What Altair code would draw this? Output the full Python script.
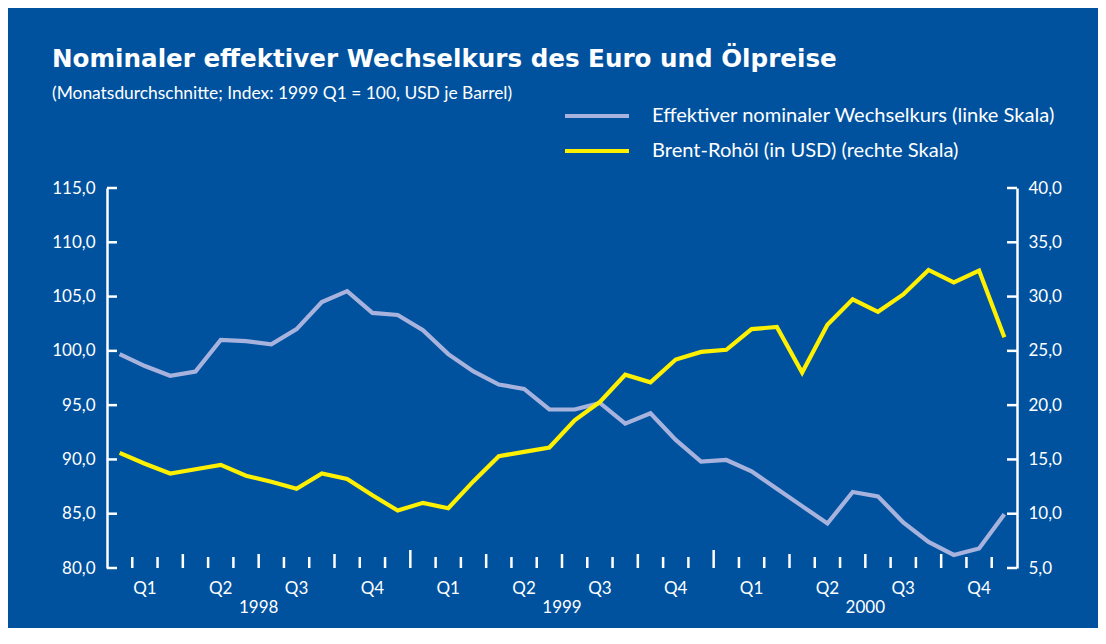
import altair as alt
import pandas as pd

# ---------------- data ----------------
months = list(range(36))  # Jan 1998 ... Dec 2000
ewk = [99.7, 98.6, 97.7, 98.1, 101.0, 100.9, 100.6, 102.0, 104.5, 105.5, 103.5, 103.3,
       101.9, 99.7, 98.1, 96.9, 96.5, 94.6, 94.6, 95.2, 93.3, 94.25, 91.8, 89.8,
       89.95, 88.9, 87.3, 85.7, 84.1, 87.0, 86.6, 84.2, 82.4, 81.2, 81.8, 84.95]
brent = [15.6, 14.6, 13.7, 14.1, 14.5, 13.5, 12.95, 12.3, 13.7, 13.2, 11.7, 10.3,
         11.0, 10.5, 13.0, 15.3, 15.7, 16.1, 18.6, 20.3, 22.8, 22.1, 24.2, 24.9,
         25.1, 27.0, 27.2, 23.0, 27.4, 29.75, 28.6, 30.2, 32.45, 31.3, 32.4, 26.25]
left_ticks = [80, 85, 90, 95, 100, 105, 110, 115]
right_ticks = [5, 10, 15, 20, 25, 30, 35, 40]
quarter_labels = ["Q1", "Q2", "Q3", "Q4"] * 3
quarter_pos = [1, 4, 7, 10, 13, 16, 19, 22, 25, 28, 31, 34]
year_labels = ["1998", "1999", "2000"]
year_pos = [5.5, 17.5, 29.5]

TITLE = "Nominaler effektiver Wechselkurs des Euro und Ölpreise"
SUBTITLE = "(Monatsdurchschnitte; Index: 1999 Q1 = 100, USD je Barrel)"
SERIES = ["Effektiver nominaler Wechselkurs (linke Skala)",
          "Brent-Rohöl (in USD) (rechte Skala)"]

BLUE = "#00529F"
LAV = "#A8B3DD"
YEL = "#FFF000"
FONT = "Lato"
TITLE_FONT = "DejaVu Sans"

df = pd.DataFrame({"m": months, "ewk": ewk, "brent": brent})

# month boundaries between consecutive months
bounds = [k + 0.5 for k in range(35)]
year_b = [b for b in bounds if int(b + 0.5) % 12 == 0]
quarter_b = [b for b in bounds if int(b + 0.5) % 3 == 0 and b not in year_b]
month_b = [b for b in bounds if b not in year_b and b not in quarter_b]

xscale = alt.Scale(domain=[-0.5, 35.5], nice=False, zero=False)
lscale = alt.Scale(domain=[80, 115], nice=False, zero=False)
rscale = alt.Scale(domain=[5, 40], nice=False, zero=False)
LABEL_EXPR = "replace(format(datum.value, '.1f'), '.', ',')"


def yaxis(orient, values, pad):
    return alt.Axis(orient=orient, values=values, labelExpr=LABEL_EXPR, title=None,
                    domain=True, domainColor="white", domainWidth=2.5,
                    ticks=False, tickSize=0, labelPadding=pad, grid=False,
                    labelColor="white", labelFont=FONT, labelFontSize=17)


line_l = alt.Chart(df).mark_line(color=LAV, strokeWidth=4.2).encode(
    x=alt.X("m:Q", scale=xscale, axis=None),
    y=alt.Y("ewk:Q", scale=lscale, axis=yaxis("left", left_ticks, 12)),
)
line_r = alt.Chart(df).mark_line(color=YEL, strokeWidth=4.2).encode(
    x=alt.X("m:Q", scale=xscale, axis=None),
    y=alt.Y("brent:Q", scale=rscale, axis=yaxis("right", right_ticks, 11)),
)

ticks_l = alt.Chart(pd.DataFrame({"v": left_ticks})).mark_rule(
    color="white", strokeWidth=2.5).encode(
    y=alt.Y("v:Q", scale=lscale, axis=None), x=alt.value(0), x2=alt.value(10))
ticks_r = alt.Chart(pd.DataFrame({"v": right_ticks})).mark_rule(
    color="white", strokeWidth=2.5).encode(
    y=alt.Y("v:Q", scale=rscale, axis=None), x=alt.value(910), x2=alt.value(900))


def xticks(vals, length):
    return alt.Chart(pd.DataFrame({"b": vals})).mark_rule(
        color="white", strokeWidth=2.5).encode(
        x=alt.X("b:Q", scale=xscale, axis=None),
        y=alt.value(380), y2=alt.value(380 - length))


xt_m = xticks(month_b, 11)
xt_q = xticks(quarter_b, 14)
xt_y = xticks(year_b, 18)

qlab = alt.Chart(pd.DataFrame({"p": quarter_pos, "t": quarter_labels})).mark_text(
    color="white", font=FONT, fontSize=17, baseline="middle", align="center").encode(
    x=alt.X("p:Q", scale=xscale, axis=None), y=alt.value(401), text="t:N")
ylab = alt.Chart(pd.DataFrame({"p": year_pos, "t": year_labels})).mark_text(
    color="white", font=FONT, fontSize=17, baseline="middle", align="center").encode(
    x=alt.X("p:Q", scale=xscale, axis=None), y=alt.value(420), text="t:N")


def text(t, x, y, size, weight="normal", font=FONT):
    return alt.Chart(pd.DataFrame({"t": [t]})).mark_text(
        color="white", font=font, fontSize=size, fontWeight=weight,
        align="left", baseline="alphabetic").encode(
        x=alt.value(x), y=alt.value(y), text="t:N")


title = text(TITLE, -55, -121, 24.6, "bold", TITLE_FONT)
subtitle = text(SUBTITLE, -55, -89, 17.4)
leg_t1 = text(SERIES[0], 545, -66, 20.1)
leg_t2 = text(SERIES[1], 545, -31, 20.1)


def legline(color, y):
    return alt.Chart(pd.DataFrame({"t": [0]})).mark_rule(
        color=color, strokeWidth=4).encode(
        x=alt.value(458), x2=alt.value(522), y=alt.value(y))


leg_l1 = legline(LAV, -72)
leg_l2 = legline(YEL, -37)

chart = alt.layer(
    line_l, line_r, ticks_l, ticks_r, xt_m, xt_q, xt_y, qlab, ylab,
    title, subtitle, leg_l1, leg_l2, leg_t1, leg_t2,
).resolve_scale(y="independent").properties(
    width=910, height=380,
    background=BLUE,
    autosize=alt.AutoSizeParams(type="none"),
    padding={"left": 99, "top": 180, "right": 81, "bottom": 60},
).configure_view(stroke=None)

chart.save("out.html", embed_options={"renderer": "svg", "actions": False})
